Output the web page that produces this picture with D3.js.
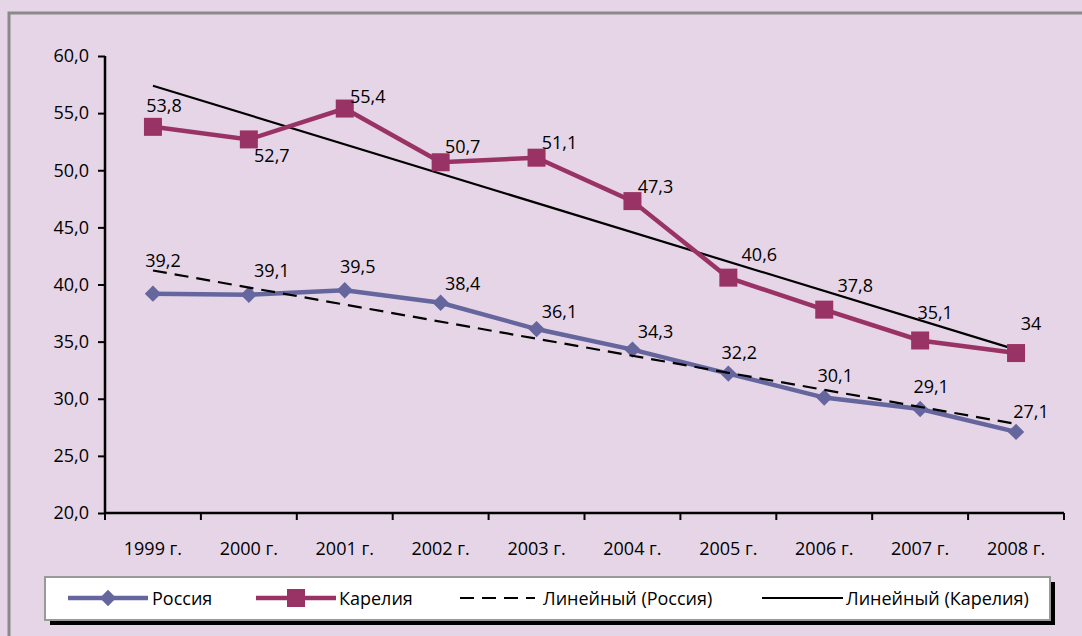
<html>
<head>
<meta charset="utf-8">
<script src="https://d3js.org/d3.v7.min.js"></script>
<style>
body { margin: 0; background: #e6d5e6; }
svg { display: block; font-family: 'Open Sans', sans-serif; }
</style>
</head>
<body>
<svg width="1082" height="636"></svg>
<script>
// данные с графика
var years = ["1999 г.", "2000 г.", "2001 г.", "2002 г.", "2003 г.", "2004 г.", "2005 г.", "2006 г.", "2007 г.", "2008 г."];
var russia = [39.2, 39.1, 39.5, 38.4, 36.1, 34.3, 32.2, 30.1, 29.1, 27.1];
var karelia = [53.8, 52.7, 55.4, 50.7, 51.1, 47.3, 40.6, 37.8, 35.1, 34];
var karLabels = ["53,8", "52,7", "55,4", "50,7", "51,1", "47,3", "40,6", "37,8", "35,1", "34"];
var rusLabels = ["39,2", "39,1", "39,5", "38,4", "36,1", "34,3", "32,2", "30,1", "29,1", "27,1"];
var yTicks = [20, 25, 30, 35, 40, 45, 50, 55, 60];

// смещения подписей (как в исходнике)
var karOff = [[11,-22],[23,16],[23,-13],[22,-16],[23,-16],[23,-15],[31,-24],[31,-25],[15,-28],[15,-30]];
var rusOff = [[10,-34],[23,-25],[13,-24],[22,-20],[23,-18],[23,-19],[11,-22],[11,-23],[11,-23],[15,-21]];

var cRus = "#66669e", cKar = "#993366";
var fs = 18;

var svg = d3.select("svg");

// рамка
svg.append("rect").attr("x", 9).attr("y", 13).attr("width", 1100).attr("height", 650)
  .attr("fill", "none").attr("stroke", "#8a8a8a").attr("stroke-width", 3);

var x = d3.scaleBand().domain(years).range([105, 1064]);
var y = d3.scaleLinear().domain([20, 60]).range([513, 56]);
var cx = function(i) { return x(years[i]) + x.bandwidth() / 2; };

var yAxis = d3.axisLeft(y).tickValues(yTicks).tickSize(7).tickFormat(function(d){ return d.toFixed(1).replace(".", ","); });
var gy = svg.append("g").attr("transform", "translate(105,0)").call(yAxis);
gy.select(".domain").attr("stroke", "#000").attr("stroke-width", 2.5).attr("d", "M0," + y(60) + "V" + y(20));
gy.selectAll(".tick line").attr("stroke", "#000").attr("stroke-width", 2);
gy.selectAll(".tick text").attr("font-size", fs).attr("font-family", "'Open Sans', sans-serif").attr("fill", "#000").attr("x", -16);

// ось X
svg.append("line").attr("x1", 105).attr("x2", 1064).attr("y1", y(20)).attr("y2", y(20))
  .attr("stroke", "#000").attr("stroke-width", 2.5);
var bounds = years.map(function(d){ return x(d); }).concat([x.range()[1]]);
svg.selectAll(".xt").data(bounds).enter().append("line")
  .attr("x1", function(d){ return d; }).attr("x2", function(d){ return d; })
  .attr("y1", y(20)).attr("y2", y(20) + 7).attr("stroke", "#000").attr("stroke-width", 2);
svg.selectAll(".xl").data(years).enter().append("text")
  .attr("x", function(d){ return x(d) + x.bandwidth()/2; }).attr("y", 555)
  .attr("text-anchor", "middle").attr("font-size", fs).text(function(d){ return d; });

// линейный тренд
function trend(vals) {
  var n = vals.length, mx = (n - 1) / 2, my = d3.mean(vals), sxy = 0, sxx = 0;
  vals.forEach(function(v, i){ sxy += (i - mx) * (v - my); sxx += (i - mx) * (i - mx); });
  var b = sxy / sxx, a = my - b * mx;
  return [a, a + b * (n - 1)];
}
var tR = trend(russia), tK = trend(karelia);
svg.append("line").attr("x1", cx(0)).attr("x2", cx(9)).attr("y1", y(tK[0])).attr("y2", y(tK[1]))
  .attr("stroke", "#000").attr("stroke-width", 2.2);

var line = d3.line().x(function(d, i){ return cx(i); }).y(function(d){ return y(d); });

svg.append("path").datum(russia).attr("d", line).attr("fill", "none").attr("stroke", cRus).attr("stroke-width", 4.5);
svg.append("path").datum(karelia).attr("d", line).attr("fill", "none").attr("stroke", cKar).attr("stroke-width", 4.5);

// маркеры
svg.selectAll(".mr").data(russia).enter().append("path")
  .attr("d", d3.symbol().type(d3.symbolDiamond2).size(170))
  .attr("transform", function(d, i){ return "translate(" + cx(i) + "," + y(d) + ")"; })
  .attr("fill", cRus);
svg.selectAll(".mk").data(karelia).enter().append("rect")
  .attr("x", function(d, i){ return cx(i) - 9; }).attr("y", function(d){ return y(d) - 9; })
  .attr("width", 18).attr("height", 18).attr("fill", cKar);

svg.append("line").attr("x1", cx(0)).attr("x2", cx(9)).attr("y1", y(tR[0])).attr("y2", y(tR[1]))
  .attr("stroke", "#000").attr("stroke-width", 2.2).attr("stroke-dasharray", "14,8");

// подписи данных
svg.selectAll(".lk").data(karelia).enter().append("text")
  .attr("x", function(d, i){ return cx(i) + karOff[i][0]; })
  .attr("y", function(d, i){ return y(d) + karOff[i][1] + 7; })
  .attr("text-anchor", "middle").attr("font-size", fs).text(function(d, i){ return karLabels[i]; });
svg.selectAll(".lr").data(russia).enter().append("text")
  .attr("x", function(d, i){ return cx(i) + rusOff[i][0]; })
  .attr("y", function(d, i){ return y(d) + rusOff[i][1] + 7; })
  .attr("text-anchor", "middle").attr("font-size", fs).text(function(d, i){ return rusLabels[i]; });

// легенда
var lg = svg.append("g");
lg.append("rect").attr("x", 50).attr("y", 582).attr("width", 1005).attr("height", 43).attr("fill", "#000");
lg.append("rect").attr("x", 45).attr("y", 577).attr("width", 1005).attr("height", 43)
  .attr("fill", "#fff").attr("stroke", "#999").attr("stroke-width", 2);
var ly = 598;
lg.append("line").attr("x1", 68).attr("x2", 148).attr("y1", ly).attr("y2", ly).attr("stroke", cRus).attr("stroke-width", 4.5);
lg.append("path").attr("d", d3.symbol().type(d3.symbolDiamond2).size(170)).attr("transform", "translate(108," + ly + ")").attr("fill", cRus);
lg.append("text").attr("x", 152).attr("y", ly + 7).attr("font-size", fs).text("Россия");
lg.append("line").attr("x1", 256).attr("x2", 336).attr("y1", ly).attr("y2", ly).attr("stroke", cKar).attr("stroke-width", 4.5);
lg.append("rect").attr("x", 287).attr("y", ly - 9).attr("width", 18).attr("height", 18).attr("fill", cKar);
lg.append("text").attr("x", 339).attr("y", ly + 7).attr("font-size", fs).text("Карелия");
lg.append("line").attr("x1", 460).attr("x2", 535).attr("y1", ly).attr("y2", ly).attr("stroke", "#000").attr("stroke-width", 2.2).attr("stroke-dasharray", "14,8");
lg.append("text").attr("x", 543).attr("y", ly + 7).attr("font-size", fs).text("Линейный (Россия)");
lg.append("line").attr("x1", 762).attr("x2", 843).attr("y1", ly).attr("y2", ly).attr("stroke", "#000").attr("stroke-width", 2.2);
lg.append("text").attr("x", 846).attr("y", ly + 7).attr("font-size", fs).text("Линейный (Карелия)");
</script>
</body>
</html>
